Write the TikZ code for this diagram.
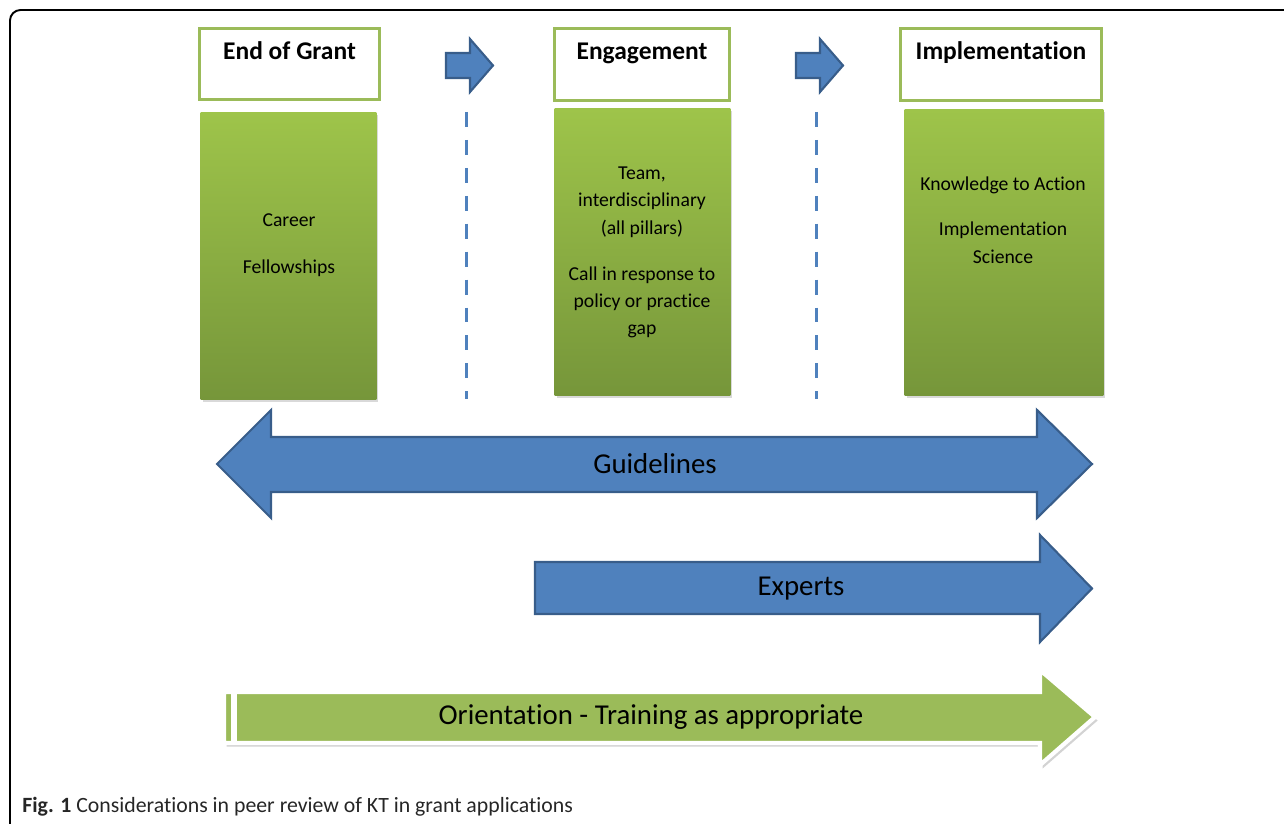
\documentclass[tikz,border=0pt]{standalone}
\usepackage{fontspec}
\setmainfont{Carlito}[Ligatures=NoCommon]
\usetikzlibrary{shadows, positioning}
\definecolor{ktgreen}{RGB}{155,187,89}
\definecolor{ktgtop}{RGB}{158,196,74}
\definecolor{ktgbot}{RGB}{118,150,58}
\definecolor{ktblue}{RGB}{79,129,189}
\definecolor{ktbluedark}{RGB}{56,93,138}
\tikzset{
  stagehead/.style={draw=ktgreen, line width=1.7pt, fill=white, minimum width=#1, minimum height=40.5pt},
  stagebody/.style={top color=ktgtop, bottom color=ktgbot, minimum width=#1, minimum height=163pt,
    drop shadow={opacity=0.3, shadow xshift=1.2pt, shadow yshift=-1.5pt}},
  headtext/.style={font=\fontsize{14.5}{17}\selectfont\bfseries, anchor=base},
  bodytext/.style={font=\fontsize{11.2}{15.6}\selectfont, align=center},
  bluearrow/.style={fill=ktblue, draw=ktbluedark, line width=1.2pt, line join=miter},
  arrowtext/.style={font=\fontsize{16.4}{19}\selectfont},
  stagesep/.style={ktblue, line width=2pt, dash pattern=on 8.5pt off 7.4pt}
}
\begin{document}
\begin{tikzpicture}[x=0.02cm, y=-0.02cm]
    \useasboundingbox (0,0) rectangle (1284,824);

    % Frame
    \draw[line width=1.1pt, rounded corners=6pt] (10,830) -- (10,10) -- (1290,10);

    % Stage headings
    \node[stagehead=102pt] (grant) at (289.5,64) {};
    \node[stagehead=100pt] (engage) at (642,64.5) {};
    \node[stagehead=114pt] (implement) at (1001,64.5) {};
    \node[headtext] (granttext) at ([yshift=-18.5pt]grant.north) {End of Grant};
    \node[headtext] (engagetext) at ([yshift=-18.5pt]engage.north) {Engagement};
    \node[headtext] (implementtext) at ([yshift=-18.5pt]implement.north) {Implementation};

    % Small arrows between headings
    \foreach \dx/\nm in {0/one, 350/two} {
      \draw[bluearrow] (446+\dx,53) -- (470+\dx,53) -- (470+\dx,39) -- (493+\dx,65.5)
        -- (470+\dx,92) -- (470+\dx,78) -- (446+\dx,78) -- cycle;
      \coordinate (sep\nm top) at (466.5+\dx,112);
      \coordinate (sep\nm bot) at (466.5+\dx,399);
      \draw[stagesep] (sep\nm top) -- (sep\nm bot);
    }

    % Stage bodies
    \node[stagebody=100pt] (grantbody) at (288.5,256) {};
    \node[stagebody=100pt] (engagebody) at (642.5,252) {};
    \node[stagebody=113pt] (implementbody) at (1004,252.5) {};
    \node[bodytext] (granttxt) at (289,245) {Career\\[11pt]Fellowships};
    \node[bodytext] (engagetxt) at (642,252.5) {Team,\\interdisciplinary\\(all pillars)\\[10.5pt]Call in response to\\policy or practice\\gap};
    \node[bodytext] (implementtxt) at (1003,220) {Knowledge to Action\\[10.5pt]Implementation\\Science};

    % Guidelines
    \draw[bluearrow] (217,464) -- (271,410) -- (271,437) -- (1037,437) -- (1037,410) -- (1092,464)
      -- (1037,518) -- (1037,492) -- (271,492) -- (271,518) -- cycle;
    \node[arrowtext] (guide) at (655,464) {Guidelines};

    % Experts
    \draw[bluearrow] (535,562) -- (1040,562) -- (1040,535) -- (1092,588.5) -- (1040,642)
      -- (1040,614) -- (535,614) -- cycle;
    \node[arrowtext] (expert) at (801,589) {Experts};

    % Orientation
    \draw[fill=ktgreen, draw=white, line width=2.4pt, line join=miter,
          drop shadow={opacity=0.35, shadow xshift=1.5pt, shadow yshift=-2pt}]
      (224,692) -- (1040,692) -- (1040,670) -- (1095,717) -- (1040,765) -- (1040,743) -- (224,743) -- cycle;
    \fill[white] (231,694) rectangle (237,741);
    \node[arrowtext] (orient) at (651,717) {Orientation - Training as appropriate};

    % Caption
    \node[anchor=base west, font=\fontsize{12.4}{15}\selectfont, text=black!85, inner sep=0pt] (caption)
      at (22,812) {\textbf{Fig. 1} Considerations in peer review of KT in grant applications};
\end{tikzpicture}
\end{document}
